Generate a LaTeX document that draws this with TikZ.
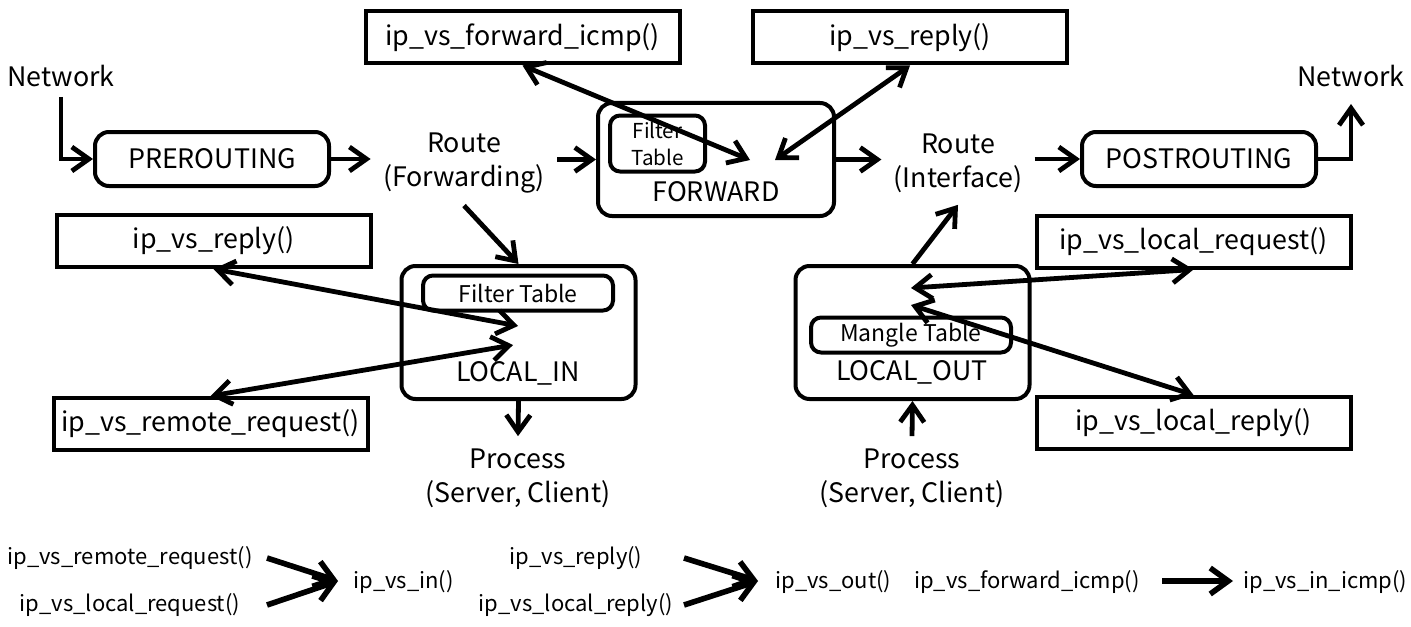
\documentclass[tikz,border=0pt]{standalone}
\usepackage{fontspec}
\setmainfont{Noto Sans CJK KR}
\usetikzlibrary{arrows.meta}

\tikzset{
  fnbox/.style={draw, line width=2pt, minimum width=157pt, minimum height=26pt, inner sep=0pt, font=\fontsize{13.4}{17}\selectfont},
  hookbox/.style={draw, line width=2pt, rounded corners=7pt, minimum width=117pt, inner sep=0pt, font=\fontsize{13.4}{17}\selectfont},
  tblbox/.style={draw, line width=2pt, rounded corners=5pt, inner sep=0pt, align=center, font=\fontsize{11.5}{13.5}\selectfont},
  label/.style={align=center, inner sep=6pt, font=\fontsize{13.4}{17}\selectfont},
  legend/.style={inner sep=0pt, font=\fontsize{11}{14}\selectfont},
  flow/.style={line width=2.4pt, -{Straight Barb[length=8.5pt,width=12pt]}},
  both/.style={line width=2.4pt, {Straight Barb[length=8.5pt,width=12pt]}-{Straight Barb[length=8.5pt,width=12pt]}},
  legarrow/.style={line width=2.8pt, -{Straight Barb[length=9pt,width=13pt]}},
}

\begin{document}
\begin{tikzpicture}[x=0.5pt, y=-0.5pt]
  % netfilter hooks and ipvs
  \useasboundingbox (0,0) rectangle (1411,626);

  \node[label, inner sep=0pt] (netin) at (61,76) {Network};
  \node[label, inner sep=0pt] (netout) at (1351,76) {Network};
  \node[hookbox, minimum height=27pt] (pre) at (212,159) {PREROUTING};
  \node[hookbox, minimum height=27pt] (post) at (1199,159) {POSTROUTING};
  \node[label] (rtfwd) at (464,163) {Route\\(Forwarding)};
  \node[label] (rtif) at (958,163) {Route\\(Interface)};

  \node[hookbox, minimum width=118pt, minimum height=56.5pt] (fwd) at (716,159.5) {};
  \node[tblbox, minimum width=47.5pt, minimum height=28pt, font=\fontsize{10.3}{13.5}\selectfont] (fwdtbl) at (657.5,143.5) {Filter\\Table};
  \node[label, inner sep=0pt] at (716,192) {FORWARD};

  \node[hookbox, minimum height=66.5pt] (lin) at (518.5,332.5) {};
  \node[tblbox, minimum width=95pt, minimum height=17.5pt] (lintbl) at (518,293) {Filter Table};
  \node[label, inner sep=0pt] at (518,373) {LOCAL\_IN};

  \node[hookbox, minimum height=66.5pt] (lout) at (912.5,332.5) {};
  \node[tblbox, minimum width=100pt, minimum height=17.5pt] (louttbl) at (911,335) {Mangle Table};
  \node[label, inner sep=0pt] at (912,372) {LOCAL\_OUT};

  \node[label] (procin) at (518,478) {Process\\(Server, Client)};
  \node[label] (procout) at (912,478) {Process\\(Server, Client)};

  \node[fnbox] (fwdicmp) at (522.5,37.5) {ip\_vs\_forward\_icmp()};
  \node[fnbox] (replytop) at (910,37.5) {ip\_vs\_reply()};
  \node[fnbox] (replyleft) at (213.5,241) {ip\_vs\_reply()};
  \node[fnbox] (remote) at (210.5,424) {ip\_vs\_remote\_request()};
  \node[fnbox] (lreq) at (1193.5,241.5) {ip\_vs\_local\_request()};
  \node[fnbox] (lrep) at (1193.5,423) {ip\_vs\_local\_reply()};

  \coordinate (fwdA) at (750,160);
  \coordinate (fwdB) at (775,160);
  \coordinate (linA) at (518,326);
  \coordinate (linB) at (513,345);
  \coordinate (loutA) at (911,288);
  \coordinate (loutB) at (911,305);

  \draw[flow] (61,97) |- (pre.west);
  \draw[flow] (post.east) -| (1351,104);
  \draw[flow] (pre.east) -- (pre.east -| rtfwd.west);
  \draw[flow] (rtfwd.east |- fwd.west) -- (fwd.west);
  \draw[flow] (fwd.east) -- (fwd.east -| rtif.west);
  \draw[flow] (rtif.east |- post.west) -- (post.west);
  \draw[flow] (rtfwd.south) -- (lin.north);
  \draw[flow] (lin.south) -- (procin.north);
  \draw[flow] (lout.north) -- (rtif.south);
  \draw[flow] (procout.north) -- (lout.south);

  \draw[both] (fwdicmp.south) -- (fwdA);
  \draw[both] (replytop.south) -- (fwdB);
  \draw[both] (replyleft.south) -- (linA);
  \draw[both] (remote.north) -- (linB);
  \draw[both] (lreq.south) -- (loutA);
  \draw[both] (lrep.north) -- (loutB);

  % legend
  \node[legend] (lgremote) at (130,558) {ip\_vs\_remote\_request()};
  \node[legend] (lglreq) at (130,605) {ip\_vs\_local\_request()};
  \node[legend, anchor=west] (lgin) at (353,582) {ip\_vs\_in()};
  \node[legend] (lgreply) at (576,558) {ip\_vs\_reply()};
  \node[legend] (lglrep) at (576,605) {ip\_vs\_local\_reply()};
  \node[legend, anchor=west] (lgout) at (775,582) {ip\_vs\_out()};
  \node[legend] (lgficmp) at (1027,582) {ip\_vs\_forward\_icmp()};
  \node[legend, anchor=west] (lginicmp) at (1243,582) {ip\_vs\_in\_icmp()};

  \coordinate (inTip) at (338,581);
  \coordinate (outTip) at (758,581);
  \coordinate (icmpFrom) at (1162,581);
  \coordinate (icmpTip) at (1233,581);
  \draw[legarrow] (267,558) -- (inTip);
  \draw[legarrow] (267,605) -- (inTip);
  \draw[legarrow] (684,558) -- (outTip);
  \draw[legarrow] (684,605) -- (outTip);
  \draw[legarrow] (icmpFrom) -- (icmpTip);
\end{tikzpicture}
\end{document}
